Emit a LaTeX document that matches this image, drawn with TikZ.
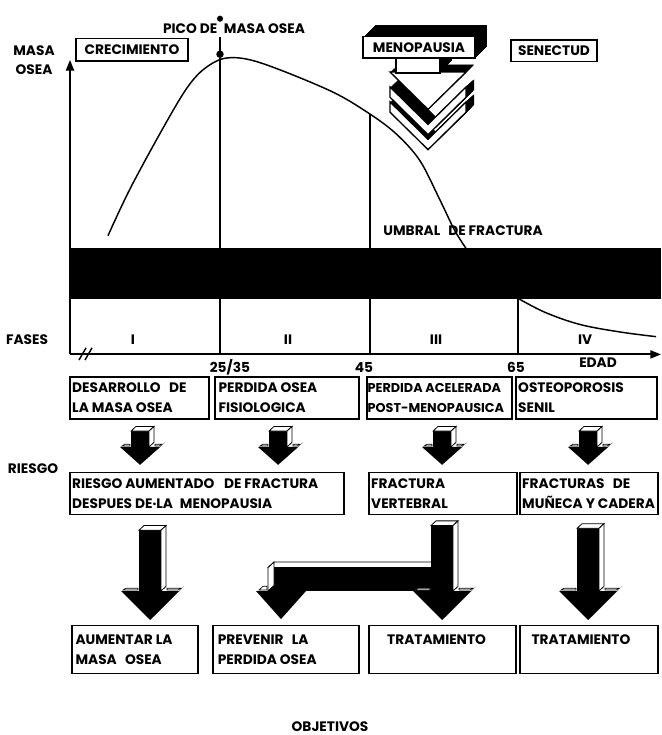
\documentclass[tikz,border=0pt]{standalone}
\usepackage{fontspec}
\setmainfont{Poppins}
\usetikzlibrary{arrows.meta,fit,positioning}
\newcommand\dnarrow[7]{% cx, ytop, yhead, ytip, half shaft, half head, depth
\fill ({#1-#5},#2) rectangle ({#1+#5},#3);
\fill ({#1+#6},#3) -- ({#1+#6+#7},{#3-#7}) -- ({#1+#7},{#4-#7}) -- (#1,#4) -- cycle;
\fill ({#1-#6},#3) -- ({#1+#6},#3) -- (#1,#4) -- cycle;
\filldraw[fill=white,line width=0.6pt] ({#1-#5},#2) -- ({#1-#5+#7},{#2-#7}) -- ({#1+#5+#7},{#2-#7}) -- ({#1+#5},#2) -- cycle;
\filldraw[fill=white,line width=0.6pt] ({#1+#5},#2) -- ({#1+#5+#7},{#2-#7}) -- ({#1+#5+#7},{#3-#7}) -- ({#1+#5},#3) -- cycle;
\filldraw[fill=white,line width=0.5pt] ({#1-#6+2},{#3-1}) -- ({#1-#6+2+#7*0.6},{#3-#7*0.6}) -- ({#1-#5-1},{#3-#7*0.6}) -- ({#1-#5-1},{#3-1}) -- cycle;
\filldraw[fill=white,line width=0.5pt] ({#1+#5+#7+1},{#3-1}) -- ({#1+#5+#7+1},{#3-#7*0.6}) -- ({#1+#6+#7*0.6-1},{#3-#7*0.6}) -- ({#1+#6-1},{#3-1}) -- cycle;
}
\begin{document}
\begin{tikzpicture}[x=0.75pt,y=-0.7013pt,
  every node/.style={font=\bfseries\fontsize{10.3}{15}\selectfont, inner sep=0pt},
  box/.style={draw, line width=1.1pt, inner sep=0pt},
  txt/.style={align=left},
  ln/.style={line width=1.1pt},
  axis/.style={line width=1.4pt, -{Triangle[length=8pt,width=6pt]}}]
\useasboundingbox (0,-7) rectangle (661,779);

% ---------- curve and vertical lines ----------
\draw[ln] plot[smooth, tension=0.55] coordinates {(108,245) (130,195) (163,130) (187,87) (205,66) (227,55) (260,60) (330,90) (370,115) (397,137) (420,165) (440,207) (455,240) (470,265)};
\draw[ln] (220,55) -- (220,372);
\draw[ln] (370,115) -- (370,372);
\draw[ln] (518,313) -- (518,372);
\draw[ln] plot[smooth, tension=0.6] coordinates {(518,312) (545,327) (580,340) (620,348) (656,353)};

% ---------- fracture threshold band ----------
\fill (70,258) rectangle (661,313);

% ---------- axes ----------
\coordinate (o) at (70,372);
\coordinate (ytop) at (70,57);
\coordinate (xend) at (661,372);
\draw[axis] (o) -- (ytop);
\draw[axis] (o) -- (xend);
\draw[line width=1.1pt] (79,378) -- (86,365) (85,378) -- (92,365);

% peak marker
\fill (220,13) circle (2.3pt);
\draw[line width=2.2pt] (220,33) -- (220,52);
\fill (220,51) circle (2.8pt);

% ---------- labels top ----------
\node (pico) at (234,24) {PICO DE\hspace{5pt}MASA OSEA};
\node (masa) at (34,47) {MASA};
\node (osea) at (34,68) {OSEA};
\node[box, fit={(76,34) (188,58)}] (cre) {};
\node at (cre) (cret) {CRECIMIENTO};
\node[box, fit={(511,36) (597,59)}] (sen) {};
\node at (sen) (sent) {SENECTUD};
\node (umbral) at (463,240) {UMBRAL\hspace{6pt}DE FRACTURA};

% ---------- menopausia block ----------
\foreach \o in {0.5,1,...,12}{
  \fill[shift={(\o,-\o)}] (363,32) rectangle (475,55);
  \fill[shift={(\o,-\o)}] (396,50) rectangle (440,70);
}
\foreach \o in {0.5,1,...,8}{
  \fill[shift={(\o,-\o)}] (390,70) -- (466,70) -- (428,110) -- cycle;
  \fill[shift={(\o,-\o)}] (390,86) -- (428,126) -- (466,86) -- (466,97) -- (428,137) -- (390,97) -- cycle;
  \fill[shift={(\o,-\o)}] (390,102) -- (428,142) -- (466,102) -- (466,113) -- (428,153) -- (390,113) -- cycle;
}
\filldraw[fill=white, line width=1pt] (390,102) -- (428,142) -- (466,102) -- (466,113) -- (428,153) -- (390,113) -- cycle;
\filldraw[fill=white, line width=1pt] (390,86) -- (428,126) -- (466,86) -- (466,97) -- (428,137) -- (390,97) -- cycle;
\filldraw[fill=white, line width=1pt] (390,70) -- (466,70) -- (428,110) -- cycle;
\filldraw[fill=white, line width=1pt] (396,48) rectangle (440,71);
\node[box, fill=white, fit={(363,32) (475,55)}] (meno) {};
\node at (meno) (menot) {MENOPAUSIA};

% ---------- phases ----------
\node (fases) at (27,356) {FASES};
\node (f1) at (133,356) {I};
\node (f2) at (288,356) {II};
\node (f3) at (436,356) {III};
\node (f4) at (585,356) {IV};
\node (a25) at (230,386) {25/35};
\node (a45) at (364,386) {45};
\node (a65) at (516,386) {65};
\node (edad) at (598,381) {EDAD};

% ---------- row 1 ----------
\node[box, fit={(70,396) (209,441)}] (r1a) {};
\node[txt, right=2pt of r1a.west] (r1at) {DESARROLLO\hspace{4pt} DE\\LA MASA OSEA};
\node[box, fit={(215,396) (359,441)}] (r1b) {};
\node[txt, right=3pt of r1b.west] (r1bt) {PERDIDA OSEA\\FISIOLOGICA};
\node[box, fit={(367,396) (512,441)}] (r1c) {};
\node[txt, right=0.8pt of r1c.west, font=\bfseries\fontsize{9.6}{15}\selectfont] (r1ct) {PERDIDA ACELERADA\\POST-MENOPAUSICA};
\node[box, fit={(516,396) (657,441)}] (r1d) {};
\node[txt, right=2pt of r1d.west] (r1dt) {OSTEOPOROSIS\\SENIL};

% small arrows
\dnarrow{140}{454}{471}{490}{9}{20}{5}
\dnarrow{278}{454}{471}{490}{9}{20}{5}
\dnarrow{442}{454}{471}{490}{9}{20}{5}
\dnarrow{588}{454}{471}{490}{9}{20}{5}

% ---------- row 2 ----------
\node (riesgo) at (33,494) {RIESGO};
\node[box, fit={(70,498) (344,543)}] (r2a) {};
\node[txt, right=2pt of r2a.west] (r2at) {RIESGO AUMENTADO\hspace{5pt} DE FRACTURA\\DESPUES DE{\raisebox{2pt}{.}}LA\hspace{3pt} MENOPAUSIA};
\node[box, fit={(369,498) (517,543)}] (r2b) {};
\node[txt, right=2pt of r2b.west] (r2bt) {FRACTURA\\VERTEBRAL};
\node[box, fit={(520,498) (658,543)}] (r2c) {};
\node[txt, right=2pt of r2c.west] (r2ct) {FRACTURAS\hspace{4pt} DE\\MUÑECA Y CADERA};

% large arrows
\dnarrow{150}{560}{625}{656}{11}{29}{5}
% L branch
\fill (268,600) rectangle (433,625);
\filldraw[fill=white,line width=0.6pt] (268,600) -- (274,594) -- (433,594) -- (433,600) -- cycle;
\filldraw[fill=white,line width=0.6pt] (268,600) -- (274,594) -- (274,619) -- (268,625) -- cycle;
\fill (256,625) -- (306,625) -- (281,655) -- cycle;
\filldraw[fill=white,line width=0.5pt] (259,624) -- (263,620) -- (267,620) -- (267,624) -- cycle;
\dnarrow{442}{555}{625}{656}{11}{29}{5}
\dnarrow{588}{558}{625}{656}{11}{29}{5}

% ---------- row 3 ----------
\node[box, fit={(72,662) (198,713)}] (r3a) {};
\node[txt, right=3pt of r3a.west] (r3at) {AUMENTAR LA\\MASA\hspace{4pt} OSEA};
\node[box, fit={(213,662) (359,713)}] (r3b) {};
\node[txt, right=4pt of r3b.west] (r3bt) {PREVENIR\hspace{4pt} LA\\PERDIDA OSEA};
\node[box, fit={(369,662) (516,713)}] (r3c) {};
\node[txt, right=14pt of r3c.west] (r3ct) {TRATAMIENTO\\\mbox{}};
\node[box, fit={(520,662) (658,713)}] (r3d) {};
\node[txt, right=9pt of r3d.west] (r3dt) {TRATAMIENTO\\\mbox{}};

\node (obj) at (330,770) {OBJETIVOS};
\end{tikzpicture}
\end{document}
